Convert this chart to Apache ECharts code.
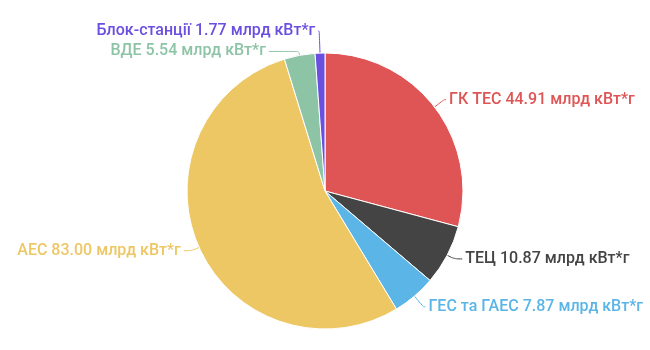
<!DOCTYPE html>
<html><head><meta charset="utf-8">
<script src="https://cdn.jsdelivr.net/npm/echarts@6/dist/echarts.min.js"></script>
<style>html,body{margin:0;padding:0;background:#fff}#c{width:650px;height:350px}</style>
</head><body><div id="c"></div>
<script>
const names = ['ГК ТЕС', 'ТЕЦ', 'ГЕС та ГАЕС', 'АЕС', 'ВДЕ', 'Блок-станції'];
const values = [44.91, 10.87, 7.87, 83.00, 5.54, 1.77];
const colors = ['#df5454', '#444444', '#5bb5e6', '#eec765', '#8ec4a6', '#6a4fe0'];
const unit = 'млрд кВт*г';
// label line lengths per slice [radial, horizontal]
const lineLen = [[12, 2], [8, 8], [14, 2], [8, 8], [4, 30], [22, 1]];

const chart = echarts.init(document.getElementById('c'));
chart.setOption({
  animation: false,
  series: [{
    type: 'pie',
    center: [325, 191],
    radius: 138,
    startAngle: 90,
    clockwise: true,
    data: names.map((n, i) => ({
      name: n, value: values[i], itemStyle: { color: colors[i] },
      labelLine: { length: lineLen[i][0], length2: lineLen[i][1] }
    })),
    itemStyle: { borderColor: '#fff', borderWidth: 1 },
    label: {
      show: true,
      fontFamily: 'Roboto',
      fontSize: 16,
      fontWeight: 500,
      overflow: 'none',
      distanceToLabelLine: 3,
      formatter: p => p.name + ' ' + p.value.toFixed(2) + ' ' + unit,
      color: 'inherit'
    },
    labelLine: { show: true, smooth: true, lineStyle: { width: 1 } }
  }]
});
</script></body></html>
